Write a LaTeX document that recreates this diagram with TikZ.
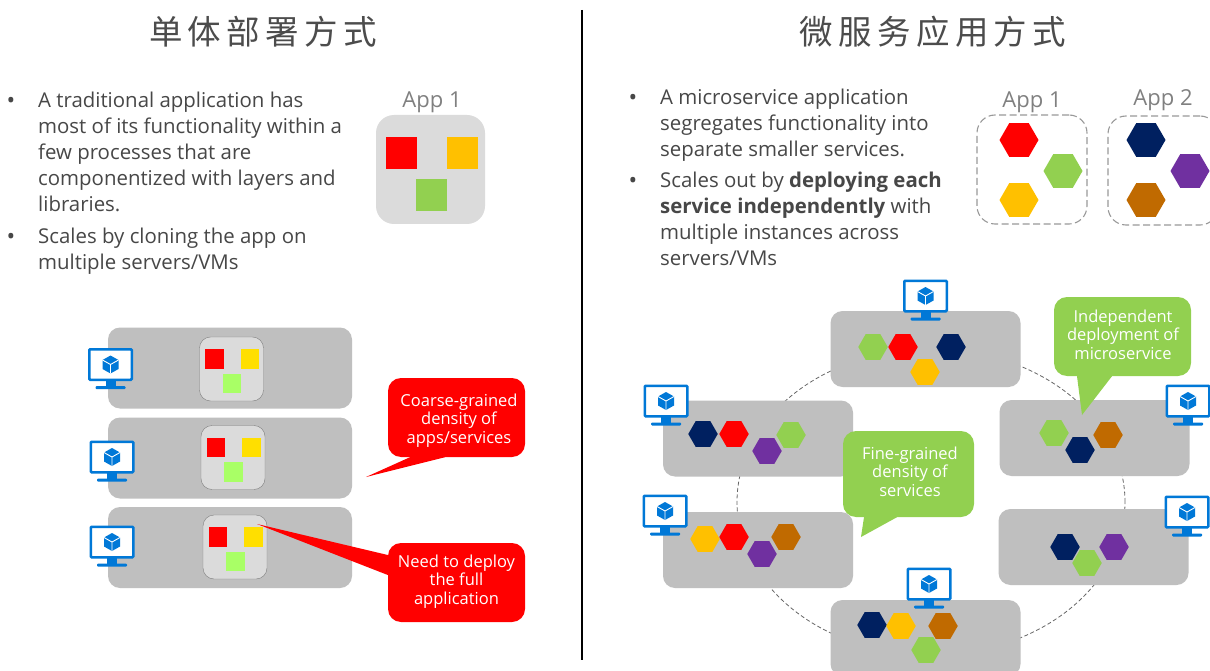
\documentclass[tikz,border=0pt]{standalone}
\usepackage{fontspec}
\setmainfont{Open Sans}
\newfontfamily\cjk[LetterSpace=16]{Noto Sans CJK SC}
\usetikzlibrary{shapes.geometric}
\definecolor{navyhex}{HTML}{002060}
\definecolor{redhex}{HTML}{FF0000}
\definecolor{greenhex}{HTML}{92D050}
\definecolor{yellowhex}{HTML}{FFC000}
\definecolor{brownhex}{HTML}{C06A00}
\definecolor{purplehex}{HTML}{7030A0}
\definecolor{iconblue}{HTML}{0078D7}
\definecolor{lightyellow}{HTML}{FFDF00}
\definecolor{lightgreen}{HTML}{A9FF66}
\tikzset{
    hexa/.style = {regular polygon, regular polygon sides=6, inner sep=0, minimum size=29.5},
    bighexa/.style = {hexa, minimum size=39},
    server/.style = {fill=black!25, rounded corners=12, minimum width=190, minimum height=76, inner sep=0},
    bigserver/.style = {server, minimum width=244, minimum height=81},
    appbox/.style = {fill=black!14, draw=black!50, thin, rounded corners=11, minimum width=64, minimum height=64, inner sep=0},
    tile/.style = {minimum width=18.5, minimum height=19.5, inner sep=0},
    bigtile/.style = {minimum width=31, minimum height=32.5, inner sep=0},
    dashbox/.style = {draw=black!40, line width=1.1pt, dash pattern=on 7pt off 3.5pt, rounded corners=18, minimum width=110, minimum height=109, inner sep=0},
    monitor/.style = {draw=iconblue, fill=white, line width=2.5pt, rounded corners=1, minimum width=42.5, minimum height=30.5, inner sep=0},
    callout/.style = {rounded corners=13, inner sep=0, minimum width=137, minimum height=79},
    calloutlabel/.style = {inner sep=0, text=white, align=center, font=\fontsize{16.5}{18.5}\selectfont},
    bodytext/.style = {anchor=north west, align=left, inner sep=0, text=black!72, font=\fontsize{20.4}{26}\selectfont},
    dot/.style = {text=black!72, inner sep=0, font=\fontsize{23}{26}\selectfont},
    applabel/.style = {text=black!50, inner sep=0, font=\fontsize{22}{26}\selectfont},
    headline/.style = {text=black!70, inner sep=0, font=\cjk\fontsize{33.5}{36}\selectfont}
}
% screen with stand and cube
\newcommand{\pcicon}[3]{
    \begin{scope}[shift={(#2,#3)}]
        \fill[iconblue] (-5,15) rectangle (5,22);
        \fill[iconblue, rounded corners=1] (-15,21.5) rectangle (15,24.5);
        \node[monitor] (#1) at (0,0) {};
        \fill[iconblue] (0,-9) -- (8,-4.5) -- (8,4.5) -- (0,9) -- (-8,4.5) -- (-8,-4.5) -- cycle;
        \draw[white, line width=0.9pt] (-8,-4.5) -- (0,0) -- (8,-4.5) (0,0) -- (0,9);
    \end{scope}
}
\newcommand{\apptiles}[3]{
    \node[appbox] (#1) at (#2,#3) {};
    \node[tile, fill=redhex] (#1-r) at (#2-17,#3-10) {};
    \node[tile, fill=lightyellow] (#1-y) at (#2+18.5,#3-10) {};
    \node[tile, fill=lightgreen] (#1-g) at (#2+0.5,#3+14.5) {};
}
\begin{document}
\begin{tikzpicture}[x=1pt, y=-1pt]
    \clip (0,0) rectangle (1210,671);
    \fill[white] (0,0) rectangle (1210,671);

    \node[headline] (lefttitle) at (263,32) {单体部署方式};
    \node[headline] (righttitle) at (933,32) {微服务应用方式};
    \draw[black, line width=1.4pt] (582,10) -- (582,660);

    % left text
    \node[dot] (ldot1) at (11,103) {•};
    \node[dot] (ldot2) at (11,239) {•};
    \node[bodytext] (ltext1) at (38,92) {A traditional application has\\most of its functionality within a\\few processes that are\\componentized with layers and\\libraries.};
    \node[bodytext] (ltext2) at (38,228) {Scales by cloning the app on\\multiple servers/VMs};

    \node[applabel] (lapp) at (432,102) {App 1};
    \node[fill=black!14, rounded corners=18, minimum width=109, minimum height=109] (lappbox) at (430.5,169.5) {};
    \node[bigtile, fill=redhex] (lred) at (401,153) {};
    \node[bigtile, fill=yellowhex] (lyellow) at (462.5,153) {};
    \node[bigtile, fill=greenhex] (lgreen) at (431.5,195) {};

    % left servers
    \node[bigserver] (srv1) at (230,368) {};
    \node[bigserver] (srv2) at (230,458) {};
    \node[bigserver] (srv3) at (230,547.5) {};
    \apptiles{box1}{231.5}{369}
    \apptiles{box2}{233}{457.5}
    \apptiles{box3}{235}{547}
    \pcicon{pc1}{110.5}{364.5}
    \pcicon{pc2}{112}{457}
    \pcicon{pc3}{112}{542}

    % red callouts
    \coordinate (tip1) at (366,477);
    \coordinate (tip2) at (257,524);
    \node[callout, fill=red] (coarse) at (456.5,417.5) {};
    \node[callout, fill=red] (full) at (456.5,582.5) {};
    \fill[red] ([xshift=-46.5]coarse.south) -- (tip1) -- ([xshift=-11.5]coarse.south) -- cycle;
    \fill[red] ([yshift=27.5]full.west) -- (tip2) -- ([yshift=7.5]full.west) -- cycle;
    \node[calloutlabel] (coarsetext) at (459,420.5) {Coarse-grained\\density of\\apps/services};
    \node[calloutlabel] (fulltext) at (456.5,581.5) {Need to deploy\\the full\\application};

    % right text
    \node[dot] (rdot1) at (633,100) {•};
    \node[dot] (rdot2) at (633,183) {•};
    \node[bodytext] (rtext1) at (660,89) {A microservice application\\segregates functionality into\\separate smaller services.};
    \node[bodytext] (rtext2) at (660,172) {Scales out by \textbf{deploying each}\\\textbf{service independently} with\\multiple instances across\\servers/VMs};

    \node[applabel] (rapp1) at (1032,102) {App 1};
    \node[applabel] (rapp2) at (1163,100) {App 2};
    \node[dashbox] (dash1) at (1032,169.5) {};
    \node[dashbox] (dash2) at (1163,170.5) {};
    \foreach \x/\y/\c in {1019/140/redhex, 1063/171/greenhex, 1019/200/yellowhex, 1146/140/navyhex, 1190/171/purplehex, 1146/200/brownhex}
        \node[bighexa, fill=\c] (app-\x-\y) at (\x,\y) {};

    % ring of servers
    \node[ellipse, draw=black!60, line width=0.8pt, dash pattern=on 4pt off 2.5pt, minimum width=388, minimum height=306] (ring) at (931,502) {};
    \node[server] (top) at (925.5,349) {};
    \node[server] (west1) at (758,438.5) {};
    \node[server] (west2) at (758,550) {};
    \node[server] (east1) at (1094.5,438) {};
    \node[server] (east2) at (1093.5,547) {};
    \node[server] (bottom) at (925.5,638) {};
    \foreach \x/\y/\c in {873/347/greenhex, 903/347/redhex, 951/347/navyhex, 925/372/yellowhex,
        703/434/navyhex, 734/434/redhex, 767/451/purplehex, 791/435/greenhex,
        705/539/yellowhex, 734/537/redhex, 762/554/purplehex, 786/537/brownhex,
        872/625/navyhex, 901/626/yellowhex, 943/626/brownhex, 926/650/greenhex,
        1054/433/greenhex, 1080/450/navyhex, 1108/435/brownhex,
        1065/547/navyhex, 1087/563/greenhex, 1114/547/purplehex}
        \node[hexa, fill=\c] (hex-\x-\y) at (\x,\y) {};
    \pcicon{pctop}{925.5}{296}
    \pcicon{pcw1}{666}{401}
    \pcicon{pcw2}{665}{511}
    \pcicon{pce1}{1188}{401}
    \pcicon{pce2}{1187}{512}
    \pcicon{pcb}{929}{584}

    % green callouts
    \coordinate (tip3) at (861,537);
    \coordinate (tip4) at (1082,415);
    \node[callout, fill=greenhex, minimum width=131, minimum height=86] (fine) at (908.5,474) {};
    \node[callout, fill=greenhex] (indep) at (1122.5,336.5) {};
    \fill[greenhex] ([xshift=-44.5]fine.south) -- (tip3) -- ([xshift=-11.5]fine.south) -- cycle;
    \fill[greenhex] ([xshift=-45.5]indep.south) -- (tip4) -- ([xshift=-10.5]indep.south) -- cycle;
    \node[calloutlabel] (finetext) at (910,471.5) {Fine-grained\\density of\\services};
    \node[calloutlabel] (indeptext) at (1123,334.5) {Independent\\deployment of\\microservice};
\end{tikzpicture}
\end{document}
